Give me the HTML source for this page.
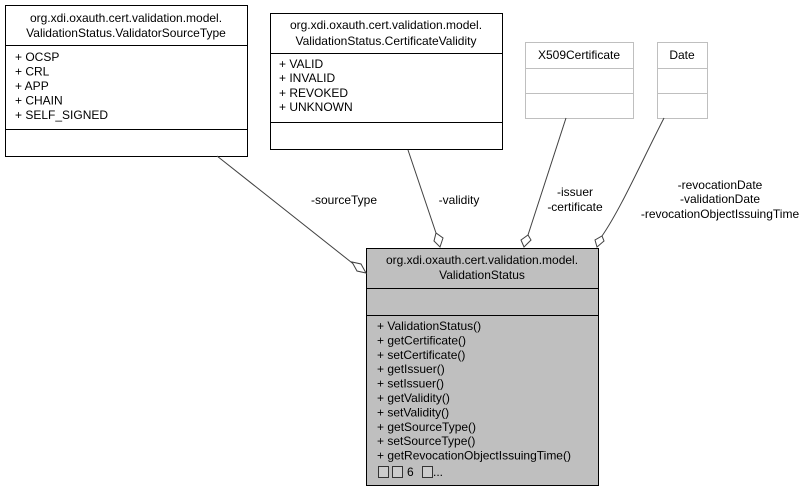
<!DOCTYPE html>
<html><head><meta charset="utf-8"><style>
html,body{margin:0;padding:0;background:#fff;width:809px;height:492px;overflow:hidden}
svg{display:block}
text{font-family:"Liberation Sans",Arial,sans-serif;font-size:12px;fill:#000}
</style></head><body>
<svg width="809" height="492" viewBox="0 0 809 492">
<!-- box1 -->
<rect x="5.5" y="5.5" width="242" height="151" fill="#fff" stroke="#000"/>
<line x1="5.5" y1="45.5" x2="247.5" y2="45.5" stroke="#000"/>
<line x1="5.5" y1="129.5" x2="247.5" y2="129.5" stroke="#000"/>
<text x="126" y="22" text-anchor="middle">org.xdi.oxauth.cert.validation.model.</text>
<text x="126" y="37" text-anchor="middle">ValidationStatus.ValidatorSourceType</text>
<text x="15" y="61">+ OCSP</text>
<text x="15" y="75.5">+ CRL</text>
<text x="15" y="90">+ APP</text>
<text x="15" y="104.5">+ CHAIN</text>
<text x="15" y="119">+ SELF_SIGNED</text>
<!-- box2 -->
<rect x="270.5" y="13.5" width="232" height="136" fill="#fff" stroke="#000"/>
<line x1="270.5" y1="53.5" x2="502.5" y2="53.5" stroke="#000"/>
<line x1="270.5" y1="122.5" x2="502.5" y2="122.5" stroke="#000"/>
<text x="386" y="29" text-anchor="middle">org.xdi.oxauth.cert.validation.model.</text>
<text x="386" y="45" text-anchor="middle">ValidationStatus.CertificateValidity</text>
<text x="279" y="68">+ VALID</text>
<text x="279" y="82">+ INVALID</text>
<text x="279" y="97">+ REVOKED</text>
<text x="279" y="111">+ UNKNOWN</text>
<!-- X509 -->
<rect x="525.5" y="42.5" width="108" height="76" fill="#fff" stroke="#bfbfbf"/>
<line x1="525.5" y1="68.5" x2="633.5" y2="68.5" stroke="#bfbfbf"/>
<line x1="525.5" y1="93.5" x2="633.5" y2="93.5" stroke="#bfbfbf"/>
<text x="579" y="59" text-anchor="middle">X509Certificate</text>
<!-- Date -->
<rect x="657.5" y="42.5" width="50" height="76" fill="#fff" stroke="#bfbfbf"/>
<line x1="657.5" y1="68.5" x2="707.5" y2="68.5" stroke="#bfbfbf"/>
<line x1="657.5" y1="93.5" x2="707.5" y2="93.5" stroke="#bfbfbf"/>
<text x="682" y="59" text-anchor="middle">Date</text>
<!-- main -->
<rect x="366.5" y="248.5" width="232" height="237" fill="#bfbfbf" stroke="#000"/>
<line x1="366.5" y1="288.5" x2="598.5" y2="288.5" stroke="#000"/>
<line x1="366.5" y1="315.5" x2="598.5" y2="315.5" stroke="#000"/>
<text x="482" y="264" text-anchor="middle">org.xdi.oxauth.cert.validation.model.</text>
<text x="482" y="279" text-anchor="middle">ValidationStatus</text>
<g>
<text x="377" y="330">+ ValidationStatus()</text>
<text x="377" y="344.4">+ getCertificate()</text>
<text x="377" y="358.8">+ setCertificate()</text>
<text x="377" y="373.2">+ getIssuer()</text>
<text x="377" y="387.6">+ setIssuer()</text>
<text x="377" y="402">+ getValidity()</text>
<text x="377" y="416.4">+ setValidity()</text>
<text x="377" y="430.8">+ getSourceType()</text>
<text x="377" y="445.2">+ setSourceType()</text>
<text x="377" y="459.6">+ getRevocationObjectIssuingTime()</text>
<rect x="378.5" y="466.5" width="10" height="11" fill="#ccc" stroke="#333"/>
<rect x="392.5" y="466.5" width="10" height="11" fill="#ccc" stroke="#333"/>
<text x="407" y="476">6</text>
<rect x="422.5" y="466.5" width="10" height="11" fill="#ccc" stroke="#333"/>
<text x="433" y="476">...</text>
</g>
<!-- connectors -->
<g fill="none" stroke="#404040">
<path d="M217,156 L356,266"/>
<path d="M408,150 L436,233"/>
<path d="M566,118 L528,235"/>
<path d="M664,118 C640,165 620,210 602,236"/>
</g>
<g fill="#fff" stroke="#404040">
<polygon points="366,273 361,264 352,262 357,271"/>
<polygon points="440,247 443,238 436,233 434,241"/>
<polygon points="524,247 531,240 528,235 521,240"/>
<polygon points="597,247 604,241 602,236 595,240"/>
</g>
<text x="344" y="204" text-anchor="middle">-sourceType</text>
<text x="459" y="204" text-anchor="middle">-validity</text>
<text x="575" y="196" text-anchor="middle">-issuer</text>
<text x="575" y="211" text-anchor="middle">-certificate</text>
<text x="720" y="189" text-anchor="middle">-revocationDate</text>
<text x="720" y="203" text-anchor="middle">-validationDate</text>
<text x="720" y="218" text-anchor="middle">-revocationObjectIssuingTime</text>
</svg>
</body></html>
